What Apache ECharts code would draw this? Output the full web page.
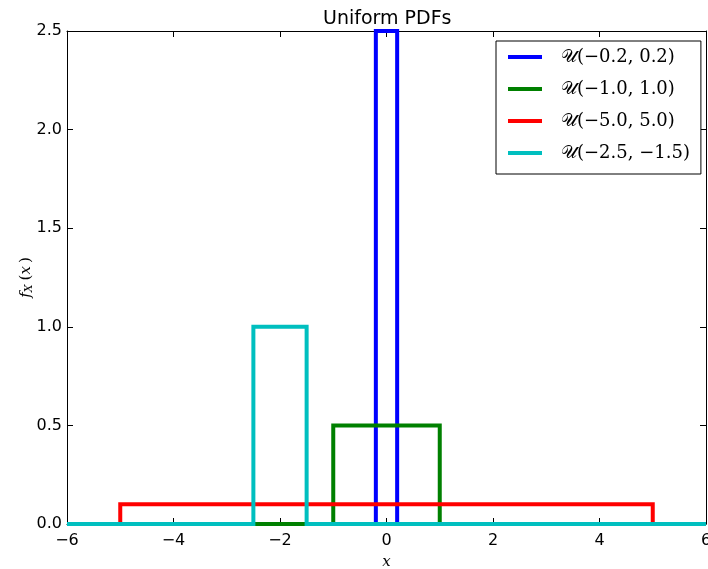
<!DOCTYPE html>
<html>
<head>
<meta charset="utf-8">
<script src="https://cdn.jsdelivr.net/npm/echarts@6/dist/echarts.min.js"></script>
<style>
  html, body { margin: 0; padding: 0; background: #fff; }
  #chart { width: 708px; height: 569px; }
</style>
</head>
<body>
<div id="chart"></div>
<script>
// uniform intervals and their densities
const names = ['𝒰(−0.2, 0.2)', '𝒰(−1.0, 1.0)', '𝒰(−5.0, 5.0)', '𝒰(−2.5, −1.5)']
const lows = [-0.2, -1.0, -5.0, -2.5]
const highs = [0.2, 1.0, 5.0, -1.5]
const heights = [2.5, 0.5, 0.1, 1.0]
const colors = ['#0000ff', '#008000', '#ff0000', '#00bfbf']
const xRange = [-6, 6]
const yRange = [0, 2.5]

const minus = (v) => String(v).replace('-', '\u2212')

// step outline for each pdf
const steps = lows.map((lo, i) => [
  [xRange[0], 0], [lo, 0], [lo, heights[i]],
  [highs[i], heights[i]], [highs[i], 0], [xRange[1], 0]
])

const mirror = {
  axisLine: { show: true, onZero: false, lineStyle: { color: '#000', width: 1 } },
  axisTick: { show: true, inside: true, length: 6, lineStyle: { color: '#000' } },
  axisLabel: { show: false },
  splitLine: { show: false },
}

const option = {
  backgroundColor: '#fff',
  animation: false,
  title: {
    text: 'Uniform PDFs',
    left: 318,
    top: 5,
    textStyle: { fontFamily: 'DejaVu Sans', fontSize: 19, fontWeight: 'normal', color: '#000' }
  },
  grid: { left: 67, right: 2, top: 31, bottom: 45, outerBoundsMode: 'none', containLabel: false },
  legend: {
    orient: 'vertical',
    left: 496,
    top: 41,
    icon: 'rect',
    itemWidth: 34,
    itemHeight: 4,
    itemGap: 12,
    padding: [6, 11, 11, 12],
    borderColor: '#000',
    borderWidth: 1,
    borderRadius: 0,
    backgroundColor: '#fff',
    data: names,
    textStyle: {
      fontFamily: 'DejaVu Serif',
      fontSize: 18,
      lineHeight: 20,
      color: '#000',
      padding: [0, 0, 0, 14]
    }
  },
  xAxis: [{
    type: 'value',
    min: xRange[0],
    max: xRange[1],
    interval: 2,
    name: 'x',
    nameLocation: 'middle',
    nameGap: 31,
    nameMoveOverlap: false,
    nameTextStyle: { fontFamily: 'DejaVu Serif', fontStyle: 'italic', fontSize: 15, color: '#000' },
    axisLine: { onZero: false, lineStyle: { color: '#000', width: 1 } },
    axisTick: { inside: true, length: 6, lineStyle: { color: '#000' } },
    axisLabel: { margin: 9, fontFamily: 'DejaVu Sans', fontSize: 16, color: '#000', formatter: minus },
    splitLine: { show: false }
  }, Object.assign({ type: 'value', position: 'top', min: xRange[0], max: xRange[1], interval: 2 }, mirror)],
  yAxis: [{
    type: 'value',
    min: yRange[0],
    max: yRange[1],
    interval: 0.5,
    name: '{i|f}{s|X}{n|(}{i|x}{n|)}',
    nameLocation: 'middle',
    nameGap: 32,
    nameMoveOverlap: false,
    nameTextStyle: {
      color: '#000',
      rich: {
        i: { fontFamily: 'DejaVu Serif', fontStyle: 'italic', fontSize: 15, color: '#000' },
        s: { fontFamily: 'DejaVu Serif', fontStyle: 'italic', fontSize: 11, color: '#000', verticalAlign: 'bottom', padding: [6, 1, 0, 0] },
        n: { fontFamily: 'DejaVu Serif', fontSize: 15, color: '#000', padding: [0, 0, 0, 3] }
      }
    },
    axisLine: { onZero: false, lineStyle: { color: '#000', width: 1 } },
    axisTick: { inside: true, length: 6, lineStyle: { color: '#000' } },
    axisLabel: { margin: 5, fontFamily: 'DejaVu Sans', fontSize: 16, color: '#000', formatter: (v) => v.toFixed(1) },
    splitLine: { show: false }
  }, Object.assign({ type: 'value', position: 'right', min: yRange[0], max: yRange[1], interval: 0.5 }, mirror)],
  series: steps.map((pts, i) => ({
    name: names[i],
    type: 'line',
    data: pts,
    symbol: 'none',
    clip: true,
    itemStyle: { color: colors[i] },
    lineStyle: { color: colors[i], width: 4, join: 'miter' },
    z: 2 + i
  }))
}

const myChart = echarts.init(document.getElementById('chart'))
myChart.setOption(option)
</script>
</body>
</html>
